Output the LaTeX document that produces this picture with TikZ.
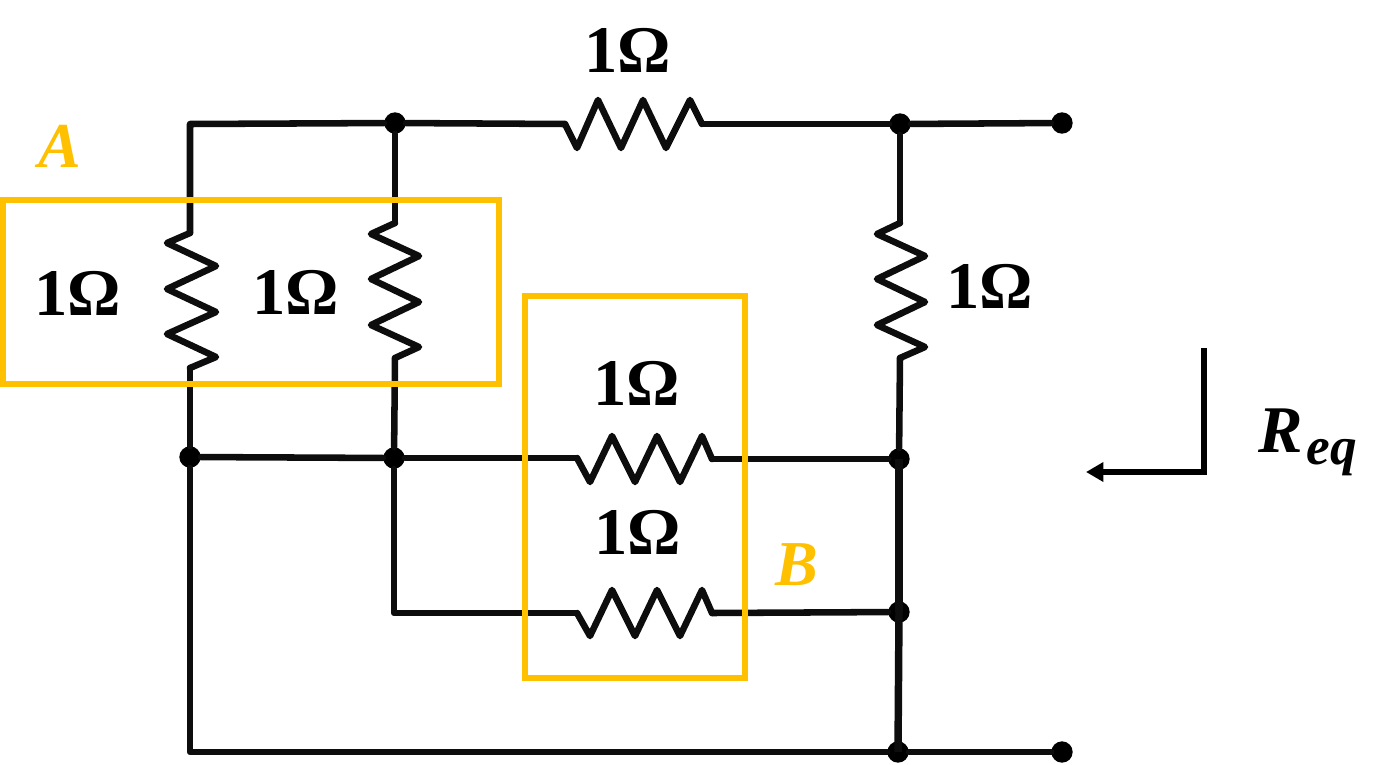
\documentclass[tikz,border=0pt]{standalone}
\usepackage{fontspec}
\setmainfont{Liberation Serif}
\usetikzlibrary{arrows.meta}
\definecolor{boxyellow}{HTML}{FFC000}
\definecolor{wireblack}{HTML}{0D0D0D}
\tikzset{
  wire/.style={draw=wireblack,line width=4.9pt,line join=round,line cap=round},
  busbar/.style={draw=wireblack,line width=5.6pt},
  frame/.style={draw=boxyellow,line width=4.6pt,fill=none,inner sep=0pt,outer sep=0pt,anchor=north west},
  dot/.style={circle,fill=black,inner sep=0pt,minimum size=16pt},
  value/.style={font=\fontsize{50}{50}\selectfont\bfseries,text=black,inner sep=0pt},
  tag/.style={font=\fontsize{48}{48}\selectfont\bfseries\itshape,text=boxyellow,inner sep=0pt},
  meas/.style={draw=black,line width=4.4pt,-{Triangle[length=13pt,width=14pt]}}
}
\begin{document}
\begin{tikzpicture}[x=0.75pt,y=-0.75pt]
\useasboundingbox (0,0) rectangle (1385,764);
% corners
\coordinate (c1) at (190,124);
\coordinate (c2) at (190,752);
\coordinate (c3) at (394,613);
% junctions
\node[dot] (j1) at (395,123) {};
\node[dot] (j2) at (900,124) {};
\node[dot] (t1) at (1062,123) {};
\node[dot] (j3) at (190,457) {};
\node[dot] (j4) at (394,458) {};
\node[dot] (j5) at (899,459) {};
\node[dot] (j6) at (899,612) {};
\node[dot] (j7) at (898,752) {};
\node[dot] (t2) at (1062,752) {};
% resistor terminals
\coordinate (r1a) at (565,124); \coordinate (r1b) at (702,124);
\coordinate (r2a) at (190,233); \coordinate (r2b) at (190,368);
\coordinate (r3a) at (395,223); \coordinate (r3b) at (395,358);
\coordinate (r4a) at (900,223); \coordinate (r4b) at (900,358);
\coordinate (r5a) at (577,458); \coordinate (r5b) at (712,459);
\coordinate (r6a) at (577,613); \coordinate (r6b) at (712,613);
% wires
\draw[wire] (r2a) -- (c1) -- (j1);
\draw[wire] (j1) -- (r1a);
\draw[wire] (r1b) -- (j2);
\draw[wire] (j2) -- (t1);
\draw[wire] (j1) -- (r3a);
\draw[wire] (j2) -- (r4a);
\draw[wire] (r2b) -- (j3);
\draw[wire] (j3) -- (c2) -- (j7);
\draw[wire] (j7) -- (t2);
\draw[wire] (r3b) -- (j4);
\draw[wire] (j4) -- (c3) -- (r6a);
\draw[wire] (j3) -- (j4);
\draw[wire] (j4) -- (r5a);
\draw[wire] (r5b) -- (j5);
\draw[wire] (r6b) -- (j6);
\draw[wire] (r4b) -- (j5);
\draw[busbar] (j5.center) -- (j6.center);
\draw[busbar] (j6.center) -- (j7.center);
% resistors
\draw[wire] (r1a) -- (577,148) -- (598,100) -- (621,148) -- (643,100) -- (666,148) -- (690,100) -- (r1b);
\draw[wire] (r2a) -- (167,243) -- (216,266) -- (167,289) -- (216,312) -- (167,334) -- (216,357) -- (r2b);
\draw[wire] (r3a) -- (371,234) -- (419,256) -- (371,279) -- (419,302) -- (371,325) -- (419,347) -- (r3b);
\draw[wire] (r4a) -- (877,234) -- (925,256) -- (877,279) -- (925,302) -- (877,325) -- (925,347) -- (r4b);
\draw[wire] (r5a) -- (590,482) -- (612,436) -- (635,482) -- (657,436) -- (680,482) -- (702,436) -- (r5b);
\draw[wire] (r6a) -- (590,636) -- (612,590) -- (635,636) -- (657,590) -- (680,636) -- (702,590) -- (r6b);
% frames
\node[frame,minimum width=496*0.75pt,minimum height=184*0.75pt] (boxA) at (3,200) {};
\node[frame,minimum width=220*0.75pt,minimum height=382*0.75pt] (boxB) at (525,296) {};
% labels
\node[value] (l1) at (628,50) {1Ω};
\node[value] (l2) at (78,293) {1Ω};
\node[value] (l3) at (296,292) {1Ω};
\node[value] (l4) at (990,286) {1Ω};
\node[value] (l5) at (637,383) {1Ω};
\node[value] (l6) at (638,532) {1Ω};
\node[tag] (la) at (60,146) {A};
\node[tag] (lb) at (797,565) {B};
\node[font=\fontsize{50}{50}\selectfont\bfseries\itshape,inner sep=0pt,anchor=base west] (req) at (1258,452) {R\kern3pt\raisebox{-9.5pt}{\fontsize{40}{40}\selectfont eq}};
% measuring arrow
\coordinate (m1) at (1204,348);
\coordinate (m2) at (1204,472);
\coordinate (m3) at (1086,472);
\draw[meas] (m1) -- (m2) -- (m3);
\end{tikzpicture}
\end{document}
